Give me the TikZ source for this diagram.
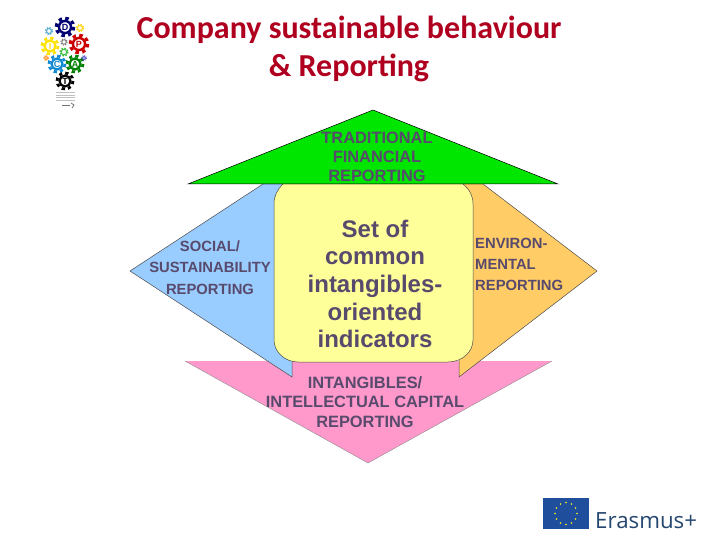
\documentclass[tikz,border=0pt]{standalone}
\usepackage{fontspec}
\setmainfont{Liberation Sans}
\newfontfamily\titlefont{Carlito}
\newfontfamily\logofont{Open Sans}
\definecolor{titlered}{HTML}{B00020}
\definecolor{labelgray}{HTML}{584A6C}
\definecolor{euroblue}{HTML}{1F4E9C}
\definecolor{logotext}{HTML}{24466F}
\definecolor{greenpanel}{HTML}{00E600}
\definecolor{bluepanel}{HTML}{99CCFF}
\definecolor{orangepanel}{HTML}{FFCC66}
\definecolor{yellowpanel}{HTML}{FFFF99}
\definecolor{pinkpanel}{HTML}{FF99CC}
\tikzset{
    panel/.style={draw=black!70, line width=0.5pt},
    toplabel/.style={text=labelgray, align=center, font=\fontsize{16.4}{19.3}\selectfont\bfseries},
    sidelabel/.style={text=labelgray, font=\fontsize{14.8}{21.4}\selectfont\bfseries},
    corelabel/.style={text=labelgray, align=center, font=\fontsize{24}{27.7}\selectfont\bfseries}
}
\begin{document}
\begin{tikzpicture}[x=1pt,y=-1pt]
    \useasboundingbox (0,0) rectangle (720,540);
    \fill [color=white] (0,0) rectangle (720,540);
    \fill [color=pinkpanel] (185,361) -- (552,361) -- (368,463) -- cycle;
    \draw [color=black!45, line width=0.4pt] (185,361) -- (368,463) -- (552,361);
    \draw [panel, fill=bluepanel] (263,184) -- (130,271) -- (292,377) -- (292,358) -- (300,340) -- (300,184) -- cycle;
    \draw [panel, fill=orangepanel] (483,184) -- (597,271) -- (459,377) -- (459,358) -- (450,340) -- (450,184) -- cycle;
    \draw [panel, fill=yellowpanel] (283,184) .. controls (277,190) and (274,196) .. (274,204) -- (274,340) .. controls (274,352) and (285,362) .. (298,362) -- (448,362) .. controls (462,362) and (473,352) .. (473,340) -- (473,204) .. controls (473,196) and (470,190) .. (463,184) -- cycle;
    \draw [panel, draw=black, fill=greenpanel] (373,110) -- (558,184) -- (188,184) -- cycle;

    \node (traditional) [toplabel] at (377,157) {TRADITIONAL\\FINANCIAL\\REPORTING};
    \node (social) [sidelabel, align=center] at (210,267.5) {SOCIAL/\\SUSTAINABILITY\\REPORTING};
    \node (environ) [sidelabel, align=left, anchor=west, inner sep=0pt] at (475,264.5) {ENVIRON-\\MENTAL\\REPORTING};
    \node (indicators) [corelabel] at (375,284) {Set of\\common\\intangibles-\\oriented\\indicators};
    \node (intellectual) [toplabel] at (365,402) {INTANGIBLES/\\INTELLECTUAL CAPITAL\\REPORTING};

    \node (title) [text=titlered, align=center, font=\fontsize{32}{38}\selectfont\titlefont\bfseries] at (349,49) {Company sustainable behaviour\\\& Reporting};

    \foreach \px/\py/\rad/\col/\ltr in {65/27/11/blue!45!black/D, 79/44/11/red!80!black/P, 50/46/10/yellow!85!orange/I, 57/64/10/cyan!70!blue/C, 75/64/10/green!50!black/A, 65/81/10/black/T, 80/28/4.5/yellow!70!orange/, 49/31/4.5/cyan!60!gray/, 64/42/4/gray/, 64/52/5/green!50!gray/, 46/58/3/orange/, 84/58/3/blue!50!gray/}{
        \pgfmathsetmacro{\tooth}{3.1416*\rad*0.8/8}
        \draw [color=\col, line width=0.28*\rad pt, dash pattern=on \tooth pt off \tooth pt] (\px,\py) circle [radius=0.8*\rad];
        \draw [color=\col, fill=white, line width=0.22*\rad pt] (\px,\py) circle [radius=0.55*\rad];
        \node [text=\col, inner sep=0pt, font=\fontsize{9}{9}\selectfont\bfseries] at (\px,\py) {\ltr};
    }
    \foreach \ly in {93,95.5,98,100.5}{
        \draw [color=black!25, line width=1pt] (56,\ly) -- (75,\ly);
    }
    \draw [color=black!55, line width=0.8pt] (62,105) -- (70,105);
    \draw [color=black!55, line width=0.8pt] (71,103) -- (74,105) -- (72,108);

    \fill [color=euroblue] (543,498) rectangle (589,529);
    \foreach \ang in {0,30,...,330}{
        \fill [color=yellow!90!white] (566,513.5) ++(\ang:11) circle [radius=0.9];
    }
    \node (erasmus) [text=logotext, anchor=base west, inner sep=0pt, font=\fontsize{22.3}{22}\selectfont\logofont] at (595,528) {Erasmus+};
\end{tikzpicture}
\end{document}
